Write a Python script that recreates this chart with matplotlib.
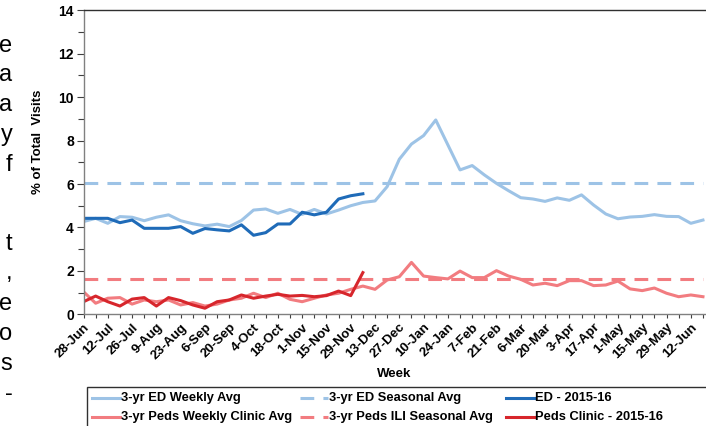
import matplotlib
matplotlib.use("Agg")
import matplotlib.pyplot as plt
from matplotlib.lines import Line2D
from matplotlib.patches import Rectangle

plt.rcParams['font.family'] = ['Liberation Sans', 'DejaVu Sans']
plt.rcParams['font.weight'] = 'bold'

# weeks 28-Jun .. 19-Jun (52 weeks), labels every 2 weeks
weeks = list(range(52))
week_labels = ['28-Jun', '12-Jul', '26-Jul', '9-Aug', '23-Aug', '6-Sep', '20-Sep',
               '4-Oct', '18-Oct', '1-Nov', '15-Nov', '29-Nov', '13-Dec', '27-Dec',
               '10-Jan', '24-Jan', '7-Feb', '21-Feb', '6-Mar', '20-Mar', '3-Apr',
               '17-Apr', '1-May', '15-May', '29-May', '12-Jun']

ed_3yr = [4.27, 4.42, 4.19, 4.50, 4.47, 4.31, 4.47, 4.58, 4.31, 4.17, 4.07, 4.15,
          4.04, 4.32, 4.80, 4.85, 4.65, 4.83, 4.60, 4.83, 4.62, 4.80, 5.00, 5.15,
          5.22, 5.88, 7.14, 7.84, 8.23, 8.95, 7.80, 6.65, 6.85, 6.42, 6.03, 5.69,
          5.37, 5.31, 5.20, 5.36, 5.25, 5.50, 5.03, 4.62, 4.40, 4.48, 4.51, 4.59,
          4.51, 4.50, 4.19, 4.34]
ed_seasonal = 6.05
ed_1516 = [4.42, 4.42, 4.42, 4.22, 4.34, 3.96, 3.96, 3.96, 4.04, 3.73, 3.95, 3.89,
           3.84, 4.12, 3.64, 3.76, 4.16, 4.16, 4.70, 4.58, 4.70, 5.31, 5.46, 5.55]

peds_3yr = [1.04, 0.51, 0.74, 0.77, 0.47, 0.66, 0.58, 0.66, 0.43, 0.54, 0.38, 0.47,
            0.66, 0.74, 0.97, 0.77, 0.97, 0.69, 0.58, 0.74, 0.89, 0.97, 1.15, 1.30,
            1.15, 1.58, 1.73, 2.39, 1.76, 1.69, 1.63, 1.99, 1.69, 1.69, 2.01, 1.76,
            1.61, 1.35, 1.43, 1.32, 1.55, 1.55, 1.32, 1.35, 1.53, 1.17, 1.09, 1.21,
            0.97, 0.81, 0.89, 0.81]
peds_seasonal = 1.61
peds_1516 = [0.58, 0.84, 0.58, 0.38, 0.70, 0.77, 0.38, 0.77, 0.63, 0.43, 0.28, 0.58,
             0.66, 0.89, 0.74, 0.84, 0.92, 0.84, 0.87, 0.81, 0.86, 1.07, 0.86, 1.92]

c_lblue = '#9DC3E6'
c_dblue = '#1F6BB8'
c_lred = '#F27C80'
c_dred = '#D7262C'
lw = 2.2
dash = (4.5, 3)

W, H = 706, 426
fig = plt.figure(figsize=(W / 100, H / 100), dpi=100)
ax = fig.add_axes([83.5 / W, 1 - 314.3 / H, (W - 83.5) / W, (314.3 - 10.3) / H])

ax.plot(weeks, ed_3yr, color=c_lblue, lw=lw)
ax.plot(weeks, peds_3yr, color=c_lred, lw=lw)
ax.plot(weeks, [ed_seasonal] * len(weeks), color=c_lblue, lw=lw, dashes=dash)
ax.plot(weeks, [peds_seasonal] * len(weeks), color=c_lred, lw=lw, dashes=dash)
ax.plot(weeks[:len(ed_1516)], ed_1516, color=c_dblue, lw=lw)
ax.plot(weeks[:len(peds_1516)], peds_1516, color=c_dred, lw=lw)

ax.set_xlim(0, 51.25)
ax.set_ylim(0, 14)
ax.set_yticks(range(0, 15, 2))
ax.set_yticks(range(1, 14, 2), minor=True)
ax.set_xticks(weeks)
xl = ['' for w in weeks]
for i, lab in enumerate(week_labels):
    xl[2 * i] = lab
ax.set_xticklabels(xl, rotation=45, ha='right', rotation_mode='anchor',
                   fontsize=9.5, fontweight='bold')
ax.tick_params(axis='x', length=3, width=0.8, color='#404040', pad=2)
ax.tick_params(axis='y', which='major', length=5, width=0.8, color='#404040',
               labelsize=10, pad=2)
ax.tick_params(axis='y', which='minor', length=4, width=0.8, color='#404040')
for t in ax.get_yticklabels():
    t.set_fontweight('bold')
ax.spines['right'].set_visible(False)
ax.spines['left'].set_color('#808080')
ax.spines['bottom'].set_color('#808080')
ax.spines['top'].set_color('#303030')
for s in ax.spines.values():
    s.set_linewidth(1.0)

fig.text(394.5 / W, 1 - 374 / H, 'Week', ha='center', va='center',
         fontsize=9.5, fontweight='bold')
fig.text(38 / W, 1 - 142 / H, '% of Total  Visits', ha='center', va='center',
         rotation=90, fontsize=9.5, fontweight='bold')

# legend box (cropped at the right and bottom)
fig.patches.append(Rectangle((87.3 / W, -0.1), 1.0, (1 - 386.7 / H) + 0.1,
                             transform=fig.transFigure, fill=False,
                             edgecolor='#303030', lw=1.0))
leg_items = [
    ('3-yr ED Weekly Avg', c_lblue, None, 0, 0),
    ('3-yr ED Seasonal Avg', c_lblue, dash, 1, 0),
    ('ED - 2015-16', c_dblue, None, 2, 0),
    ('3-yr Peds Weekly Clinic Avg', c_lred, None, 0, 1),
    ('3-yr Peds ILI Seasonal Avg', c_lred, dash, 1, 1),
    ('Peds Clinic - 2015-16', c_dred, None, 2, 1),
]
col_x = [91.7, 300, 506]
row_y = [398, 417.3]
for label, col, ds, c, r in leg_items:
    x0 = col_x[c]
    y = 1 - row_y[r] / H
    ln = Line2D([x0 / W, (x0 + 28) / W], [y, y], transform=fig.transFigure,
                color=col, lw=lw)
    if ds:
        ln.set_dashes(ds)
    fig.lines.append(ln)
    fig.text((x0 + 29) / W, y, label, ha='left', va='center',
             fontsize=9.3, fontweight='bold')

# cropped paragraph text at the left edge
side_letters = ['e', 'a', 'a', 'y', 'f', 't', ',', 'e', 'o', 's', '-']
side_base = [52, 81, 111, 141, 171, 250, 279, 310, 340, 370, 400]
for ch, yb in zip(side_letters, side_base):
    fig.text(12.5 / W, 1 - yb / H, ch, ha='right', va='baseline',
             fontsize=17, fontweight='normal')

fig.savefig('out.png', dpi=100)
